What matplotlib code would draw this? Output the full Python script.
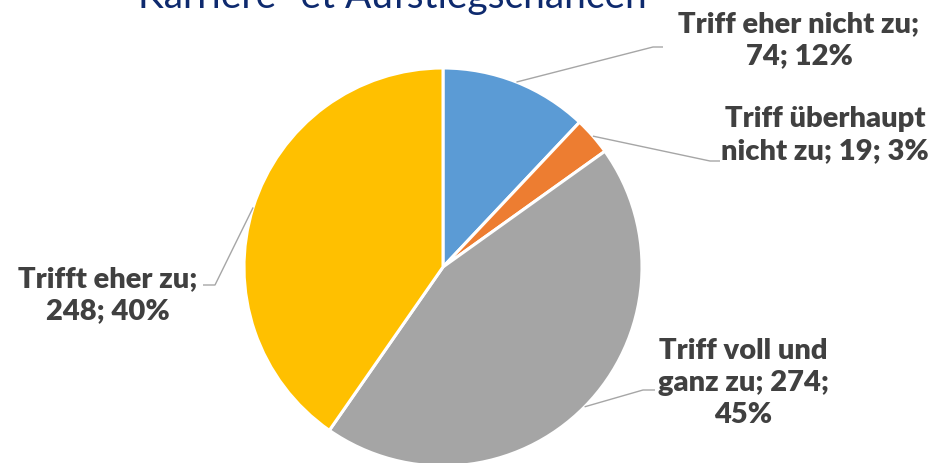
import numpy as np
import matplotlib
matplotlib.use('Agg')
import matplotlib.pyplot as plt

# data
categories = ['Triff eher nicht zu', 'Triff überhaupt nicht zu', 'Triff voll und ganz zu', 'Trifft eher zu']
counts = [74, 19, 274, 248]
colors = ['#5B9BD5', '#ED7D31', '#A5A5A5', '#FFC000']
title = 'Karriere- et Aufstiegschancen'

W, H = 935, 464
fig = plt.figure(figsize=(W / 100, H / 100), dpi=100)
ax = fig.add_axes([0, 0, 1, 1])

# pie geometry in pixel units (y measured from the bottom)
cx, cy, r = 443, H - 268, 199
ax.pie(counts, colors=colors, startangle=90, counterclock=False,
       center=(cx, cy), radius=r,
       wedgeprops=dict(edgecolor='white', linewidth=2.2))
ax.set_xlim(0, W)
ax.set_ylim(0, H)
ax.set_aspect('equal')
ax.axis('off')

total = sum(counts)
pcts = [round(c / total * 100) for c in counts]
labels = [
    f'Triff eher nicht zu;\n{counts[0]}; {pcts[0]}%',
    f'Triff überhaupt\nnicht zu; {counts[1]}; {pcts[1]}%',
    f'Triff voll und\nganz zu; {counts[2]};\n{pcts[2]}%',
    f'Trifft eher zu;\n{counts[3]}; {pcts[3]}%',
]

# label centres, leader elbows and stub ends (pixels from top)
label_pos = [(799, 40), (825, 135), (743, 383), (108, 295)]
elbows = [(653, 48), (710, 162), (643, 391), (215, 286)]
stubs = [(663, 48), (720, 162), (655, 391), (203, 286)]

# mid angle of each wedge
cum = np.cumsum([0] + counts)
for i in range(len(counts)):
    mid = 90 - (cum[i] + counts[i] / 2) / total * 360
    px = cx + r * np.cos(np.radians(mid))
    py = cy + r * np.sin(np.radians(mid))
    ex, ey = elbows[i]
    sx, sy = stubs[i]
    ax.plot([px, ex, sx], [py, H - ey, H - sy], color='#A6A6A6', lw=1.0,
            solid_capstyle='butt')
    lx, ly = label_pos[i]
    ax.text(lx, H - ly, labels[i], ha='center', va='center', multialignment='center',
            fontsize=21, fontweight='heavy', family='Lato', color='#404040',
            linespacing=1.3)

ax.text(392, H - 8, title, ha='center', va='baseline', fontsize=28,
        family='Lato', color='#0E2A6E')

fig.savefig('out.png', dpi=100)
